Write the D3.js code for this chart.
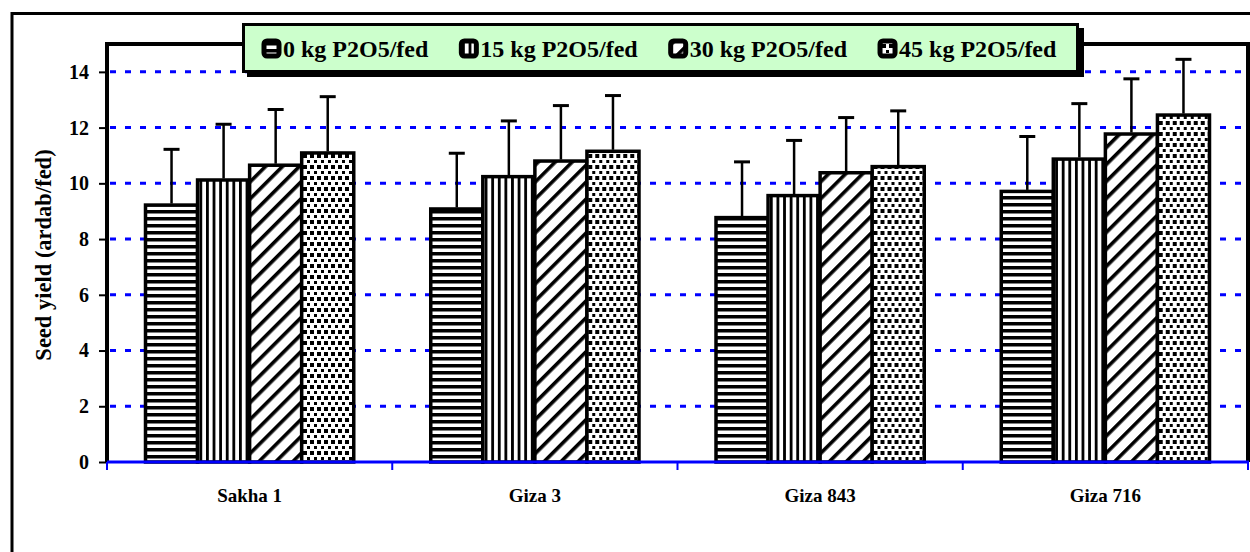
<!DOCTYPE html>
<html><head><meta charset="utf-8">
<script src="https://cdn.jsdelivr.net/npm/d3@7"></script>
<style>html,body{margin:0;padding:0;background:#fff;}svg{display:block;}</style>
</head><body>
<svg id="chart" width="1250" height="552"></svg>
<script>
const categories = ["Sakha 1", "Giza 3", "Giza 843", "Giza 716"];
const seriesNames = ["0 kg P2O5/fed", "15 kg P2O5/fed", "30 kg P2O5/fed", "45 kg P2O5/fed"];
const yield0 = [9.22, 9.08, 8.77, 9.71];
const yield15 = [10.12, 10.24, 9.56, 10.87];
const yield30 = [10.65, 10.80, 10.38, 11.77];
const yield45 = [11.09, 11.15, 10.60, 12.45];
const err0 = [2.0, 2.0, 2.0, 1.97];
const err15 = [2.0, 2.0, 1.98, 1.99];
const err30 = [2.0, 1.99, 1.98, 1.98];
const err45 = [2.02, 2.0, 2.0, 2.0];
const yTicks = [0, 2, 4, 6, 8, 10, 12, 14];
const yTitle = "Seed yield (ardab/fed)";

const seriesValues = [yield0, yield15, yield30, yield45];
const seriesErrors = [err0, err15, err30, err45];
const patternIds = ["pH", "pV", "pD", "pS"];

const svg = d3.select("#chart");
const FONT = "'Liberation Serif','Times New Roman',serif";
const plot = {left: 107, right: 1248, top: 44, bottom: 462};

// patterns
const defs = svg.append("defs");
let p = defs.append("pattern").attr("id", "pH").attr("patternUnits", "userSpaceOnUse").attr("width", 8).attr("height", 7);
p.append("rect").attr("width", 8).attr("height", 7).attr("fill", "#fff");
p.append("rect").attr("y", 0).attr("width", 8).attr("height", 3.5).attr("fill", "#000");
p = defs.append("pattern").attr("id", "pV").attr("patternUnits", "userSpaceOnUse").attr("width", 6.6).attr("height", 8);
p.append("rect").attr("width", 6.6).attr("height", 8).attr("fill", "#fff");
p.append("rect").attr("x", 0).attr("width", 2.8).attr("height", 8).attr("fill", "#000");
p = defs.append("pattern").attr("id", "pD").attr("patternUnits", "userSpaceOnUse").attr("width", 12).attr("height", 12)
  .attr("patternTransform", "rotate(45)");
p.append("rect").attr("width", 12).attr("height", 12).attr("fill", "#fff");
p.append("rect").attr("x", 0).attr("width", 3.6).attr("height", 12).attr("fill", "#000");
p = defs.append("pattern").attr("id", "pS").attr("patternUnits", "userSpaceOnUse").attr("width", 7).attr("height", 11);
p.append("rect").attr("width", 7).attr("height", 11).attr("fill", "#fff");
p.append("rect").attr("x", 0).attr("y", 0).attr("width", 3.5).attr("height", 3.5).attr("fill", "#000").attr("shape-rendering", "crispEdges");
p.append("rect").attr("x", 3.5).attr("y", 5.5).attr("width", 3.5).attr("height", 3.5).attr("fill", "#000").attr("shape-rendering", "crispEdges");

// outer frame
svg.append("rect").attr("x", 12).attr("y", 13.5).attr("width", 1260).attr("height", 560)
  .attr("fill", "none").attr("stroke", "#000").attr("stroke-width", 3);

const x0 = d3.scaleBand().domain(categories).range([plot.left, plot.right]).padding(0);
const x1 = d3.scaleBand().domain(d3.range(seriesNames.length)).range([38.5, x0.bandwidth() - 38.5]).padding(0);
const y = d3.scaleLinear().domain([0, 15]).range([plot.bottom, plot.top]);

// gridlines
svg.append("g").selectAll("line").data(yTicks.filter(d => d > 0)).join("line")
  .attr("x1", plot.left + 3).attr("x2", plot.right - 2)
  .attr("y1", d => y(d)).attr("y2", d => y(d))
  .attr("stroke", "#0000ff").attr("stroke-width", 3).attr("stroke-dasharray", "6,9");

// bars
const groups = svg.append("g").selectAll("g").data(categories).join("g")
  .attr("transform", d => `translate(${x0(d)},0)`);
groups.each(function(cat, ci) {
  const g = d3.select(this);
  seriesNames.forEach((s, si) => {
    const v = seriesValues[si][ci];
    g.append("rect")
      .attr("x", x1(si)).attr("width", x1.bandwidth())
      .attr("y", y(v)).attr("height", y(0) - y(v))
      .attr("fill", `url(#${patternIds[si]})`)
      .attr("stroke", "#000").attr("stroke-width", 3.5);
  });
  seriesNames.forEach((s, si) => {
    const v = seriesValues[si][ci];
    const e = seriesErrors[si][ci];
    const cx = x1(si) + x1.bandwidth() / 2;
    g.append("line").attr("x1", cx).attr("x2", cx).attr("y1", y(v) - 1.5).attr("y2", y(v + e))
      .attr("stroke", "#000").attr("stroke-width", 2.5);
    g.append("line").attr("x1", cx - 8).attr("x2", cx + 8).attr("y1", y(v + e)).attr("y2", y(v + e))
      .attr("stroke", "#000").attr("stroke-width", 3);
  });
});

// plot frame (left, top, right)
svg.append("path")
  .attr("d", `M${plot.left},${plot.bottom}V${plot.top}H${plot.right}V${plot.bottom}`)
  .attr("fill", "none").attr("stroke", "#000").attr("stroke-width", 4);

// y axis ticks & labels
const yAxis = svg.append("g").attr("transform", `translate(${plot.left - 1},0)`)
  .call(d3.axisLeft(y).tickValues(yTicks).tickSize(7).tickPadding(10).tickFormat(d3.format("d")));
yAxis.select(".domain").remove();
yAxis.selectAll(".tick line").attr("stroke", "#000").attr("stroke-width", 2);
yAxis.selectAll(".tick text").attr("font-family", FONT).attr("font-weight", "bold")
  .attr("font-size", 20).attr("fill", "#000");

// x axis (blue)
const xAxis = svg.append("g").attr("transform", `translate(0,${plot.bottom})`)
  .call(d3.axisBottom(x0).tickSize(0).tickPadding(27));
xAxis.select(".domain").remove();
xAxis.append("line").attr("x1", plot.left).attr("x2", plot.right + 1).attr("y1", 0).attr("y2", 0)
  .attr("stroke", "#0000ff").attr("stroke-width", 3);
const bounds = categories.map(c => x0(c)).concat([x0(categories[categories.length - 1]) + x0.bandwidth()]);
xAxis.selectAll(".bnd").data(bounds).join("line").attr("class", "bnd")
  .attr("x1", d => d).attr("x2", d => d).attr("y1", 0).attr("y2", 8)
  .attr("stroke", "#0000ff").attr("stroke-width", 2);
xAxis.selectAll(".tick text").attr("font-family", FONT).attr("font-weight", "bold")
  .attr("font-size", 19).attr("fill", "#000");

// y title
svg.append("text").attr("transform", "translate(51,255) rotate(-90)")
  .attr("text-anchor", "middle").attr("font-family", FONT).attr("font-weight", "bold")
  .attr("font-size", 22.5).text(yTitle);

// legend
const lg = svg.append("g");
lg.append("rect").attr("x", 247).attr("y", 28).attr("width", 837).attr("height", 49).attr("fill", "#000");
lg.append("rect").attr("x", 243.5).attr("y", 24.5).attr("width", 834).attr("height", 47)
  .attr("fill", "#ccffcc").attr("stroke", "#000").attr("stroke-width", 3);
let cursor = 264;
seriesNames.forEach((s, si) => {
  lg.append("rect").attr("x", cursor).attr("y", 41).attr("width", 15).attr("height", 15).attr("rx", 3)
    .attr("fill", `url(#${patternIds[si]})`).attr("stroke", "#000").attr("stroke-width", 5);
  const t = lg.append("text").attr("x", cursor + 19).attr("y", 57)
    .attr("font-family", FONT).attr("font-weight", "bold").attr("font-size", 24).text(s);
  cursor = cursor + 19 + t.node().getComputedTextLength() + 33;
});
</script>
</body></html>
